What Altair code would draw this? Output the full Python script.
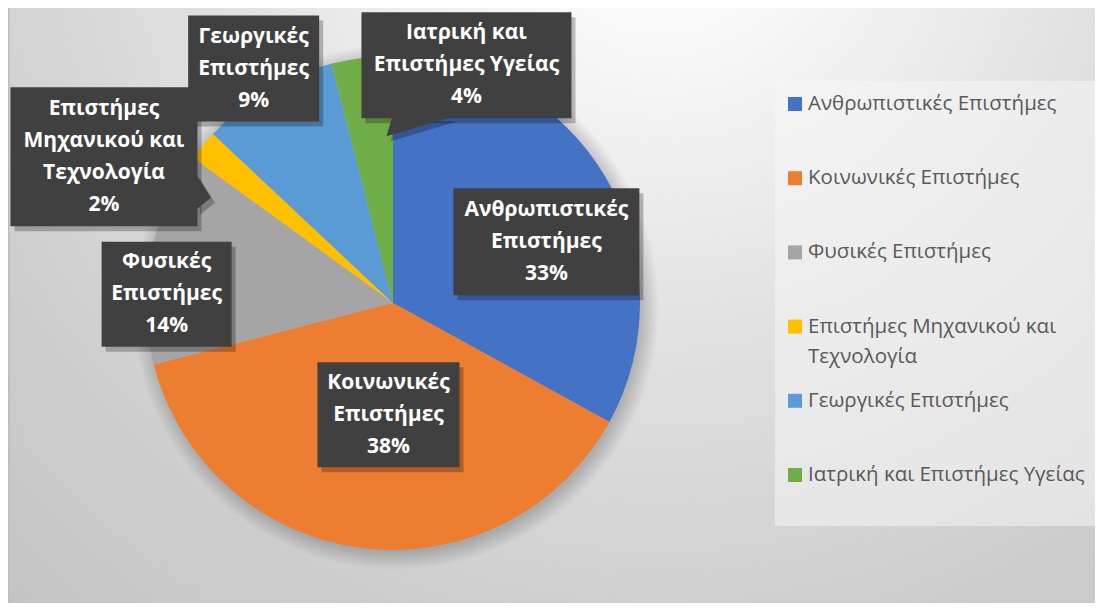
import altair as alt
import pandas as pd

# ---------------- data ----------------
categories = [
    "Ανθρωπιστικές Επιστήμες",
    "Κοινωνικές Επιστήμες",
    "Φυσικές Επιστήμες",
    "Επιστήμες Μηχανικού και Τεχνολογία",
    "Γεωργικές Επιστήμες",
    "Ιατρική και Επιστήμες Υγείας",
]
values = [33, 38, 14, 2, 9, 4]
colors = ["#4472C4", "#ED7D31", "#A5A5A5", "#FFC000", "#5B9BD5", "#70AD47"]
label_text = [
    "Ανθρωπιστικές\nΕπιστήμες",
    "Κοινωνικές\nΕπιστήμες",
    "Φυσικές\nΕπιστήμες",
    "Επιστήμες\nΜηχανικού και\nΤεχνολογία",
    "Γεωργικές\nΕπιστήμες",
    "Ιατρική και\nΕπιστήμες Υγείας",
]
legend_text = [
    "Ανθρωπιστικές Επιστήμες",
    "Κοινωνικές Επιστήμες",
    "Φυσικές Επιστήμες",
    "Επιστήμες Μηχανικού και\nΤεχνολογία",
    "Γεωργικές Επιστήμες",
    "Ιατρική και Επιστήμες Υγείας",
]

df = pd.DataFrame({
    "cat": categories,
    "value": values,
    "order": list(range(len(categories))),
    "label": label_text,
    "legend": legend_text,
})

# ---------------- layout (pixels) ----------------
W, H = 1087, 595
CX, CY, R = 385, 295, 247
R0 = 148  # anchor radius for the data-label callouts
LH = 32   # label line height
# per-label nudge from anchor (dx, dy), box size (w, h), text lines, callout pointer path
label_layout = [
    (26, 14, 186, 107, 3, None),
    (14, -35, 142, 105, 3, None),
    (-81, 19, 130, 105, 3, None),
    (-175, -52, 187, 139, 4, "M92,17 L107,41 L92,53 Z"),
    (-64, -107, 131, 106, 3, None),
    (92, -91, 210, 106, 3, "M-74,51 L-80,71 L-12,51 Z"),
]
BOX = "#404040"

one = alt.Chart(df).transform_aggregate(n="count()")

bg_grad = alt.RadialGradient(
    gradient="radial", x1=0.6, y1=0.12, r1=0, x2=0.6, y2=0.12, r2=1.0,
    stops=[
        alt.GradientStop(offset=0.0, color="#ffffff"),
        alt.GradientStop(offset=0.12, color="#fafafa"),
        alt.GradientStop(offset=0.4, color="#e2e2e2"),
        alt.GradientStop(offset=0.7, color="#cdcdcd"),
        alt.GradientStop(offset=1.0, color="#bfbfbf"),
    ],
)
background = one.mark_rect(fill=bg_grad).encode(
    x=alt.value(0), x2=alt.value(W), y=alt.value(0), y2=alt.value(H)
)
left_border = one.mark_rule(color="#bdbdbd", strokeWidth=1.5).encode(
    x=alt.value(0.75), y=alt.value(0), y2=alt.value(H)
)

shadow_grad = alt.RadialGradient(
    gradient="radial", x1=0.5, y1=0.5, r1=0, x2=0.5, y2=0.5, r2=0.5,
    stops=[
        alt.GradientStop(offset=0.0, color="rgba(0,0,0,0.25)"),
        alt.GradientStop(offset=0.93, color="rgba(0,0,0,0.2)"),
        alt.GradientStop(offset=1.0, color="rgba(0,0,0,0)"),
    ],
)
pie_shadow = one.mark_arc(theta=0, theta2=6.2832, outerRadius=R + 16, fill=shadow_grad).encode(
    x=alt.value(CX + 3), y=alt.value(CY + 4)
)

color_scale = alt.Scale(domain=categories, range=colors)

pie = alt.Chart(df).mark_arc(outerRadius=R).encode(
    theta=alt.Theta("value:Q", stack=True),
    color=alt.Color("cat:N", scale=color_scale, legend=None),
    order=alt.Order("order:Q"),
    x=alt.value(CX),
    y=alt.value(CY),
)

lab_base = (
    alt.Chart(df)
    .transform_joinaggregate(total="sum(value)")
    .transform_window(cum="sum(value)", sort=[alt.SortField("order")], frame=[None, 0])
    .transform_calculate(
        mid="2*PI*(datum.cum - datum.value/2)/datum.total",
        txt="datum.label + '\\n' + round(100*datum.value/datum.total) + '%'",
    )
    .transform_calculate(
        ax=f"{CX} + {R0}*sin(datum.mid)",
        ay=f"{CY} - {R0}*cos(datum.mid)",
    )
)

shadow_layers, box_layers, text_layers = [], [], []
for i, (nx, ny, bw, bh, nlines, pointer) in enumerate(label_layout):
    sub = lab_base.transform_filter(alt.datum.order == i).transform_calculate(
        bx=f"datum.ax + {nx}",
        by=f"datum.ay + {ny}",
    ).transform_calculate(
        x1=f"datum.bx - {bw / 2}", x2=f"datum.bx + {bw / 2}",
        y1=f"datum.by - {bh / 2}", y2=f"datum.by + {bh / 2}",
        sx1=f"datum.bx - {bw / 2} + 4", sx2=f"datum.bx + {bw / 2} + 4",
        sy1=f"datum.by - {bh / 2} + 5", sy2=f"datum.by + {bh / 2} + 5",
        sbx="datum.bx + 4", sby="datum.by + 5",
    )
    shadow_layers.append(sub.mark_rect(color="#000000", opacity=0.25).encode(
        x=alt.X("sx1:Q", scale=None), x2="sx2:Q",
        y=alt.Y("sy1:Q", scale=None), y2="sy2:Q",
    ))
    box_layers.append(sub.mark_rect(color=BOX).encode(
        x=alt.X("x1:Q", scale=None), x2="x2:Q",
        y=alt.Y("y1:Q", scale=None), y2="y2:Q",
    ))
    if pointer:
        shadow_layers.append(sub.mark_point(
            shape=pointer, size=4, filled=True, color="#000000", opacity=0.25, strokeWidth=0
        ).encode(x=alt.X("sbx:Q", scale=None), y=alt.Y("sby:Q", scale=None)))
        box_layers.append(sub.mark_point(
            shape=pointer, size=4, filled=True, color=BOX, opacity=1, strokeWidth=0
        ).encode(x=alt.X("bx:Q", scale=None), y=alt.Y("by:Q", scale=None)))
    text_layers.append(sub.mark_text(
        font="Open Sans", fontWeight="bold", fontSize=21, color="#ffffff",
        align="center", baseline="middle", lineBreak="\n", lineHeight=LH,
        dy=-(nlines - 1) * LH / 2,
    ).encode(
        x=alt.X("bx:Q", scale=None), y=alt.Y("by:Q", scale=None), text="txt:N"
    ))

legend_box = one.mark_rect(fill="#f6f6f6", opacity=0.55).encode(
    x=alt.value(767), x2=alt.value(1093), y=alt.value(73), y2=alt.value(518)
)
leg_y = alt.Y("cat:N", sort=categories, axis=None,
              scale=alt.Scale(type="point", range=[96, 467], padding=0))
leg_sq = alt.Chart(df).mark_square(size=196, opacity=1).encode(
    x=alt.value(787), y=leg_y,
    color=alt.Color("cat:N", scale=color_scale, legend=None),
)
leg_txt = alt.Chart(df).mark_text(
    font="Open Sans", fontSize=20.5, color="#595959", align="left",
    baseline="line-top", dy=-15, lineHeight=30, lineBreak="\n",
).encode(x=alt.value(800), y=leg_y, text="legend:N")

chart = alt.layer(
    background, left_border, pie_shadow, pie,
    *shadow_layers, *box_layers, *text_layers,
    legend_box, leg_sq, leg_txt
).resolve_scale(x="independent", y="independent").properties(
    width=W, height=H, padding=0, autosize=alt.AutoSizeParams(type="none")
).configure_view(stroke=None)

chart.save("out.html", embed_options={"renderer": "svg", "actions": False})
